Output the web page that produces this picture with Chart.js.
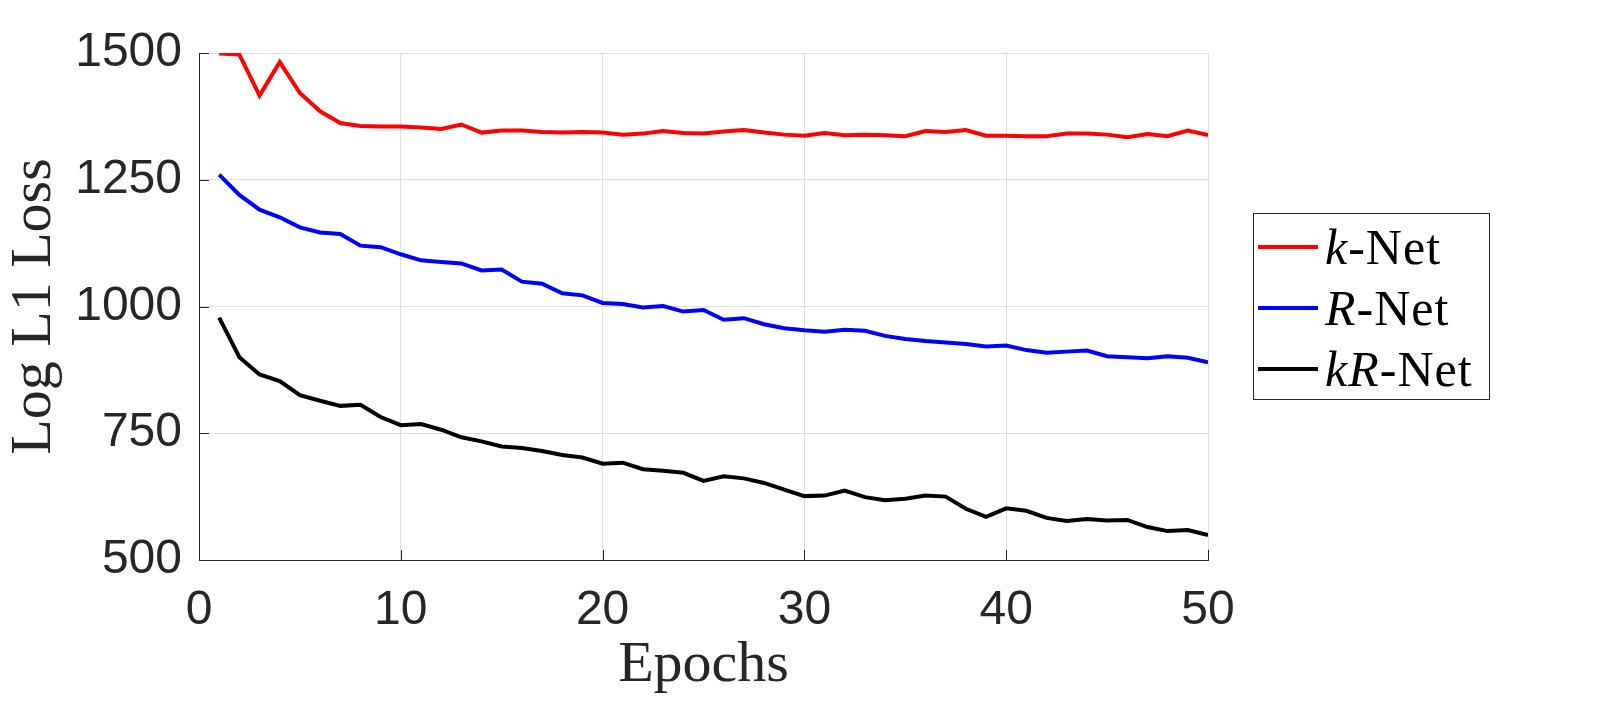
<!DOCTYPE html>
<html>
<head>
<meta charset="utf-8">
<script src="https://cdn.jsdelivr.net/npm/chart.js@4"></script>
<style>
  body { margin: 0; background: #fff; }
  #wrap { position: relative; width: 1618px; height: 705px; }
  #legend {
    position: absolute; left: 1253px; top: 213px; width: 237px; height: 187px;
    box-sizing: border-box; border: 1px solid #262626; background: #fff; padding-top: 2px;
  }
  .row { height: 61px; display: flex; align-items: center; }
  .swatch { width: 60px; height: 4px; margin-left: 4px; }
  .lbl { margin-left: 7px; font: 50px "Liberation Serif", "DejaVu Serif", serif; color: #000; line-height: 1; letter-spacing: 1px; }
</style>
</head>
<body>
<div id="wrap">
  <canvas id="chart" width="1618" height="705"></canvas>
  <div id="legend">
    <div class="row"><span class="swatch" style="background:#ff0000"></span><span class="lbl"><i>k</i>-Net</span></div>
    <div class="row"><span class="swatch" style="background:#0000ff"></span><span class="lbl"><i>R</i>-Net</span></div>
    <div class="row"><span class="swatch" style="background:#000000"></span><span class="lbl"><i>kR</i>-Net</span></div>
  </div>
</div>
<script>
// values
const epochs = [1, 2, 3, 4, 5, 6, 7, 8, 9, 10, 11, 12, 13, 14, 15, 16, 17, 18, 19, 20,
  21, 22, 23, 24, 25, 26, 27, 28, 29, 30, 31, 32, 33, 34, 35, 36, 37, 38, 39, 40,
  41, 42, 43, 44, 45, 46, 47, 48, 49, 50];

const kNet = [1499, 1497, 1416, 1482, 1421, 1385, 1362, 1356, 1355, 1355,
  1353, 1350, 1359, 1343, 1347, 1347, 1344, 1343, 1344, 1343,
  1339, 1341, 1346, 1342, 1341, 1345, 1348, 1343, 1339, 1337,
  1342, 1338, 1339, 1338, 1336, 1346, 1344, 1348, 1337, 1337,
  1336, 1336, 1341, 1341, 1339, 1334, 1340, 1336, 1347, 1338];

const rNet = [1260, 1220, 1191, 1176, 1156, 1146, 1143, 1120, 1117, 1103,
  1091, 1088, 1085, 1071, 1073, 1049, 1045, 1026, 1022, 1007,
  1005, 998, 1001, 990, 993, 974, 977, 965, 957, 953,
  950, 954, 952, 942, 936, 932, 929, 926, 921, 923,
  914, 909, 911, 913, 902, 900, 898, 902, 899, 890];

const krNet = [978, 900, 866, 853, 825, 814, 804, 806, 782, 766,
  768, 757, 742, 734, 724, 721, 715, 707, 702, 690,
  692, 679, 676, 672, 656, 665, 661, 652, 639, 626,
  627, 637, 624, 618, 621, 627, 625, 601, 585, 602,
  597, 583, 577, 581, 578, 579, 565, 557, 559, 549];

const xTicks = [0, 10, 20, 30, 40, 50];
const yTicks = [500, 750, 1000, 1250, 1500];

function pts(vals) {
  return epochs.map((e, i) => ({ x: e, y: vals[i] }));
}

// little inward tick marks like the original axes
const innerTicks = {
  id: 'innerTicks',
  afterDraw(chart) {
    const { ctx, chartArea, scales } = chart;
    ctx.save();
    ctx.strokeStyle = '#262626';
    ctx.lineWidth = 1;
    ctx.beginPath();
    yTicks.forEach(v => {
      const y = Math.round(scales.y.getPixelForValue(v)) + 0.5;
      ctx.moveTo(chartArea.left, y);
      ctx.lineTo(chartArea.left + 10, y);
    });
    xTicks.forEach(v => {
      const x = Math.round(scales.x.getPixelForValue(v)) + 0.5;
      ctx.moveTo(x, chartArea.bottom);
      ctx.lineTo(x, chartArea.bottom - 10);
    });
    ctx.stroke();
    ctx.restore();
  }
};

const tickFont = { family: '"Liberation Sans", Arial, sans-serif', size: 48 };
const titleFont = { family: '"Liberation Serif", "DejaVu Serif", serif', size: 58 };

new Chart(document.getElementById('chart'), {
  type: 'line',
  data: {
    datasets: [
      { label: 'k-Net', data: pts(kNet), borderColor: '#ff0000', borderWidth: 4, pointRadius: 0, tension: 0 },
      { label: 'R-Net', data: pts(rNet), borderColor: '#0000ff', borderWidth: 4, pointRadius: 0, tension: 0 },
      { label: 'kR-Net', data: pts(krNet), borderColor: '#000000', borderWidth: 4, pointRadius: 0, tension: 0 }
    ]
  },
  options: {
    responsive: false,
    animation: false,
    devicePixelRatio: 1,
    layout: { padding: { top: 53, right: 410, left: 0, bottom: 0 } },
    plugins: { legend: { display: false }, tooltip: { enabled: false } },
    scales: {
      x: {
        type: 'linear',
        min: 0,
        max: 50,
        afterBuildTicks: (s) => { s.ticks = xTicks.map(v => ({ value: v })); },
        afterFit: (s) => { s.height = 145; },
        grid: { color: '#dfdfdf', drawTicks: false },
        border: { color: '#262626', width: 1 },
        ticks: { font: tickFont, color: '#262626', padding: 22, maxRotation: 0 },
        title: { display: true, text: 'Epochs', font: titleFont, color: '#262626', padding: { top: 0, bottom: 4 } }
      },
      y: {
        min: 500,
        max: 1500,
        afterBuildTicks: (s) => { s.ticks = yTicks.map(v => ({ value: v })); },
        afterFit: (s) => { s.width = 199; },
        grid: { color: '#dfdfdf', drawTicks: false },
        border: { color: '#262626', width: 1 },
        ticks: { font: tickFont, color: '#262626', padding: 17, callback: (v) => String(v) },
        title: { display: true, text: 'Log L1 Loss', font: titleFont, color: '#262626', padding: { top: 0, bottom: 0 } }
      }
    }
  },
  plugins: [innerTicks]
});
</script>
</body>
</html>
